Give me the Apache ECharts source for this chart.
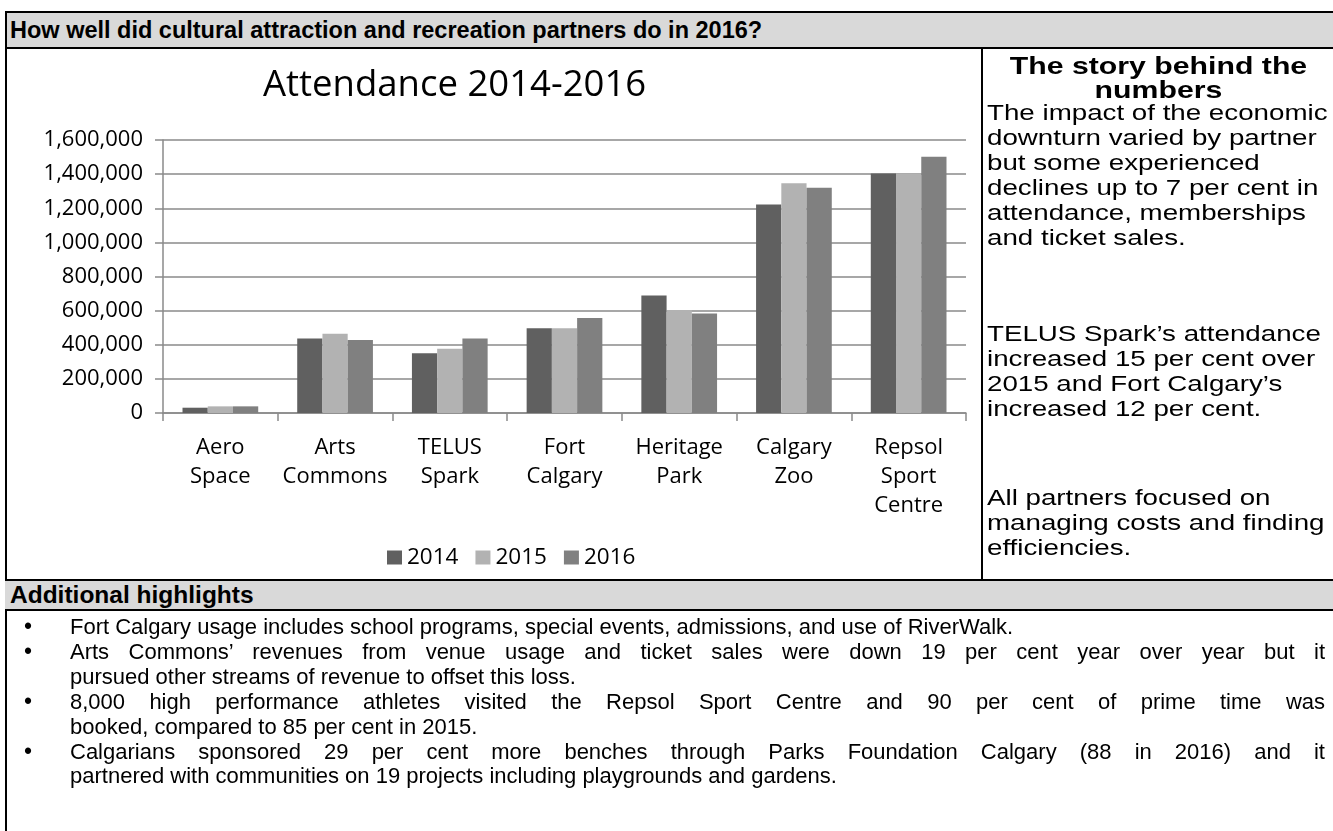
<!DOCTYPE html>
<html><head><meta charset="utf-8">
<script src="https://cdn.jsdelivr.net/npm/echarts@6/dist/echarts.min.js"></script>
<style>
html,body{margin:0;padding:0;background:#fff;width:1333px;height:831px;overflow:hidden;}
#chart{position:absolute;left:0;top:0;width:1333px;height:831px;}
.abs{position:absolute;}
.ar{font-family:"Liberation Sans",Arial,sans-serif;color:#000;white-space:nowrap;}
</style></head><body>
<div id="chart"></div>
<div id="overlay"></div>
<script>
// ---------- data ----------
const categories = ['Aero\nSpace','Arts\nCommons','TELUS\nSpark','Fort\nCalgary','Heritage\nPark','Calgary\nZoo','Repsol\nSport\nCentre'];
const seriesNames = ['2014','2015','2016'];
const values2014 = [31000, 436000, 350000, 497000, 688000, 1222000, 1404000];
const values2015 = [39000, 464000, 377000, 497000, 604000, 1346000, 1404000];
const values2016 = [39000, 428000, 436000, 557000, 583000, 1320000, 1502000];
const yTickLabels = ['0','200,000','400,000','600,000','800,000','1,000,000','1,200,000','1,400,000','1,600,000'];
const chartTitle = 'Attendance 2014-2016';
const pageHeading = 'How well did cultural attraction and recreation partners do in 2016?';
const storyHeading = ['The story behind the','numbers'];
const storyParas = [
  ['The impact of the economic','downturn varied by partner','but some experienced','declines up to 7 per cent in','attendance, memberships','and ticket sales.'],
  ['TELUS Spark\u2019s attendance','increased 15 per cent over','2015 and Fort Calgary\u2019s','increased 12 per cent.'],
  ['All partners focused on','managing costs and finding','efficiencies.']
];
const highlightsHeading = 'Additional highlights';
const bullets = [
  ['Fort Calgary usage includes school programs, special events, admissions, and use of RiverWalk.'],
  ['Arts Commons\u2019 revenues from venue usage and ticket sales were down 19 per cent year over year but it','pursued other streams of revenue to offset this loss.'],
  ['8,000 high performance athletes visited the Repsol Sport Centre and 90 per cent of prime time was','booked, compared to 85 per cent in 2015.'],
  ['Calgarians sponsored 29 per cent more benches through Parks Foundation Calgary (88 in 2016) and it','partnered with communities on 19 projects including playgrounds and gardens.']
];
const seriesColors = ['#606060','#b2b2b2','#808080'];

// ---------- page frame & text ----------
const ov = document.getElementById('overlay');
function add(html){ ov.insertAdjacentHTML('beforeend', html); }
add('<div class="abs" style="left:5px;top:11px;width:1328px;height:34px;background:#d9d9d9;border-top:2px solid #000;border-bottom:2px solid #000;"></div>');
add('<div class="abs ar" style="left:10px;top:13px;line-height:34px;font-size:23.5px;font-weight:bold;">'+pageHeading+'</div>');
add('<div class="abs" style="left:5px;top:11px;width:2px;height:820px;background:#000;"></div>');
add('<div class="abs" style="left:981px;top:47px;width:2px;height:533px;background:#000;"></div>');
add('<div class="abs" style="left:5px;top:579px;width:1328px;height:28px;background:#d9d9d9;border-top:2px solid #000;border-bottom:2px solid #000;"></div>');
add('<div class="abs ar" style="left:10px;top:581px;line-height:28px;font-size:24.5px;font-weight:bold;">'+highlightsHeading+'</div>');

// right panel
const sx = 1.26, panelLeft = 987, innerW = (1333-984)/sx;
function storyLine(txt, cy, bold, center){
  add('<div class="abs ar" style="left:'+(center?984:panelLeft)+'px;top:'+(cy-12.5)+'px;line-height:25px;font-size:'+(bold?24:22)+'px;transform:scaleX('+sx+');transform-origin:0 0;'+
      (bold?'font-weight:bold;':'')+(center?'width:'+innerW+'px;text-align:center;':'')+'">'+txt+'</div>');
}
const storyY = [[65,89],[112,137,162,187,212,237],[333,358,383,408],[497,522,547]];
storyHeading.forEach((t,i)=>storyLine(t, storyY[0][i], true, true));
storyParas.forEach((p,pi)=>p.forEach((t,i)=>storyLine(t, storyY[pi+1][i], false, false)));

// bullets
const bulletY = [[626],[651,676],[701,726],[751,775]];
const textLeft = 70, textRight = 1325;
bullets.forEach((b,bi)=>{
  add('<div class="abs ar" style="left:24px;top:'+(bulletY[bi][0]-12.5)+'px;line-height:25px;font-size:23px;">\u2022</div>');
  b.forEach((t,i)=>{
    const just = (b.length>1 && i===0);
    add('<div class="abs ar" style="left:'+textLeft+'px;top:'+(bulletY[bi][i]-12.5)+'px;line-height:25px;font-size:22px;'+
      (just?'width:'+(textRight-textLeft)+'px;text-align:justify;text-align-last:justify;':'')+'">'+t+'</div>');
  });
});

// ---------- chart ----------
const chart = echarts.init(document.getElementById('chart'), null, {renderer:'canvas'});
const font = '"Open Sans", sans-serif';
const axisGrey = '#8a8a8a';
chart.setOption({
  animation:false,
  backgroundColor:'transparent',
  textStyle:{fontFamily:font},
  title:{text:chartTitle,left:263,top:67,padding:0,textStyle:{fontFamily:font,fontSize:36.5,fontWeight:500,color:'#000'}},
  legend:{data:seriesNames,left:387,top:546,itemWidth:15,itemHeight:14,itemGap:17,icon:'rect',padding:0,
    textStyle:{fontSize:22.5,color:'#000',fontFamily:font}},
  grid:{left:163,right:367,top:140,bottom:418,containLabel:false},
  xAxis:{type:'category',data:categories,
    axisLine:{lineStyle:{color:axisGrey,width:1.5}},
    axisTick:{show:true,length:8,interval:0,lineStyle:{color:axisGrey,width:1.5}},
    axisLabel:{interval:0,margin:20,fontSize:22,lineHeight:29,color:'#000',fontFamily:font}},
  yAxis:{type:'value',min:0,max:1600000,interval:200000,
    axisLine:{show:true,lineStyle:{color:axisGrey,width:1.5}},
    axisTick:{show:true,length:8,lineStyle:{color:axisGrey,width:1.5}},
    splitLine:{lineStyle:{color:axisGrey,width:1.5}},
    axisLabel:{margin:20,fontSize:22,color:'#000',fontFamily:font,formatter:v=>yTickLabels[Math.round(v/200000)]}},
  series:[values2014,values2015,values2016].map((d,i)=>({
    name:seriesNames[i],type:'bar',data:d,barGap:'0%',barCategoryGap:'34%',
    itemStyle:{color:seriesColors[i]}
  }))
});
</script>
</body></html>
